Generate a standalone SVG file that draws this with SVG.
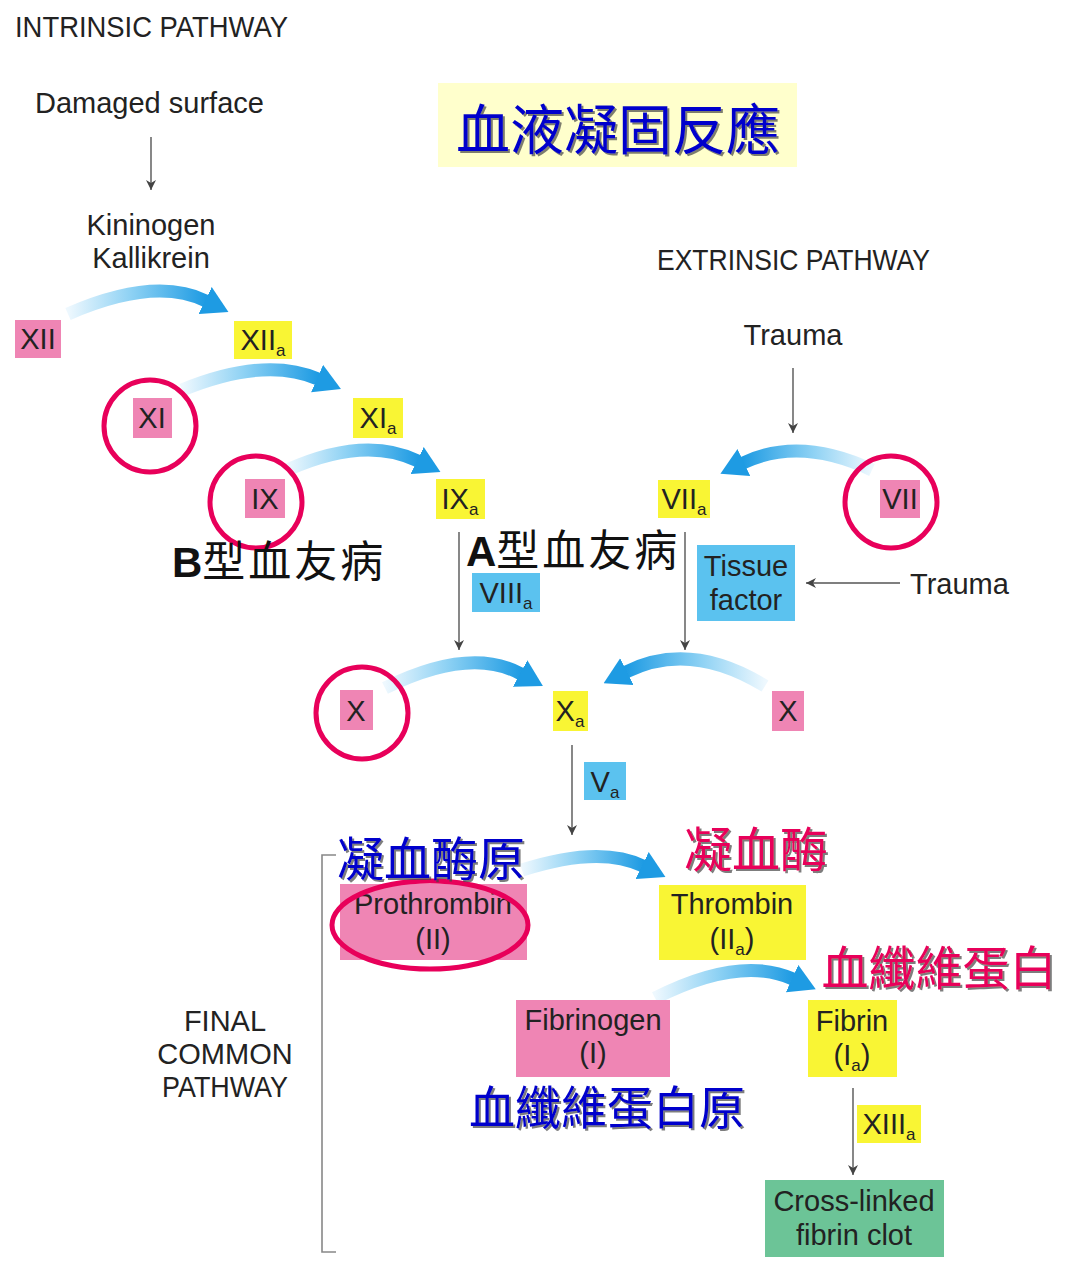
<svg xmlns="http://www.w3.org/2000/svg" width="1068" height="1263" viewBox="0 0 1068 1263">
<style>
.t{font-family:"Liberation Sans","Noto Sans",sans-serif;fill:#222;font-size:29px}
.c{text-anchor:middle}
.sub{font-size:17px}
.pk{fill:#ef85b4}
.yl{fill:#f9f534}
.bl{fill:#5bc2ef}
.gr{fill:#6cc497}
.ring{fill:none;stroke:#e8005a;stroke-width:5}
.thin{fill:none;stroke:#555;stroke-width:1.4;marker-end:url(#ah)}
.band{fill:none;stroke-width:13;stroke-linecap:butt;marker-end:url(#bh)}
.cjk{font-family:"Noto Sans CJK TC","Noto Sans CJK SC",sans-serif}
.blue{fill:#0000cc;filter:url(#sh)}
.red{fill:#e8005a;filter:url(#sh)}
.blk{fill:#111}
</style>
<defs>
<marker id="ah" markerUnits="userSpaceOnUse" markerWidth="10" markerHeight="10" refX="10" refY="5" orient="auto" viewBox="0 0 10 10">
<path d="M0,0 L10,5 L0,10 L3,5 z" fill="#444"/>
</marker>
<marker id="bh" markerUnits="userSpaceOnUse" markerWidth="26" markerHeight="30" refX="1" refY="15" orient="auto" viewBox="0 0 26 30">
<path d="M0,0 L26,15 L0,30 z" fill="#1e9be3"/>
</marker>
<linearGradient id="gR" x1="0" y1="0" x2="1" y2="0">
<stop offset="0" stop-color="#eef8fe"/>
<stop offset="0.45" stop-color="#8fd2f4"/>
<stop offset="1" stop-color="#1e9be3"/>
</linearGradient>
<linearGradient id="gL" x1="1" y1="0" x2="0" y2="0">
<stop offset="0" stop-color="#eef8fe"/>
<stop offset="0.45" stop-color="#8fd2f4"/>
<stop offset="1" stop-color="#1e9be3"/>
</linearGradient>
<filter id="sh" x="-5%" y="-5%" width="115%" height="120%">
<feDropShadow dx="2" dy="2" stdDeviation="0.6" flood-color="#444" flood-opacity="0.7"/>
</filter>
</defs>
<rect width="1068" height="1263" fill="#ffffff"/>

<g id="labels">
<text class="t" x="15" y="37" textLength="273" lengthAdjust="spacingAndGlyphs">INTRINSIC PATHWAY</text>
<text class="t" x="657" y="270" textLength="273" lengthAdjust="spacingAndGlyphs">EXTRINSIC PATHWAY</text>
<text class="t c" x="225" y="1031">FINAL</text>
<text class="t c" x="225" y="1064">COMMON</text>
<text class="t c" x="225" y="1097" textLength="126" lengthAdjust="spacingAndGlyphs">PATHWAY</text>
</g>

<g id="title">
<rect x="438" y="83" width="359" height="84" fill="#ffffcc"/>
<text class="cjk blue c" x="618" y="150" font-size="54">血液凝固反應</text>
</g>

<g id="damaged"><text class="t" x="35" y="113">Damaged surface</text></g>
<g id="kininogen">
<text class="t c" x="151" y="235">Kininogen</text>
<text class="t c" x="151" y="268">Kallikrein</text>
</g>
<g id="trauma1"><text class="t c" x="793" y="345">Trauma</text></g>
<g id="trauma2"><text class="t" x="910" y="594">Trauma</text></g>

<g id="connectors">
<path class="thin" d="M151,137 V190"/>
<path class="thin" d="M793,368 V433"/>
<path class="thin" d="M459,532 V650"/>
<path class="thin" d="M685,532 V650"/>
<path class="thin" d="M900,583 H806"/>
<path class="thin" d="M572,745 V835"/>
<path class="thin" d="M853,1088 V1175"/>
<polyline points="336,855 322,855 322,1252 336,1252" fill="none" stroke="#888" stroke-width="1.6"/>
<path class="band" stroke="url(#gR)" d="M68,314 Q155,276 206,301"/>
<path class="band" stroke="url(#gR)" d="M182,390 Q265,356 318,379"/>
<path class="band" stroke="url(#gR)" d="M287,470 Q365,435 418,461"/>
<path class="band" stroke="url(#gL)" d="M872,470 Q800,436 743,463"/>
<path class="band" stroke="url(#gR)" d="M385,688 Q470,646 521,674"/>
<path class="band" stroke="url(#gL)" d="M765,686 Q690,640 626,672"/>
<path class="band" stroke="url(#gR)" d="M522,870 Q600,845 643,866"/>
<path class="band" stroke="url(#gR)" d="M655,998 Q740,955 793,979"/>
</g>

<g id="XII"><rect class="pk" x="15" y="320" width="46" height="38"/><text class="t c" x="38" y="349">XII</text></g>
<g id="XIIa"><rect class="yl" x="234" y="321" width="58" height="38"/><text class="t c" x="263" y="350">XII<tspan class="sub" dy="6">a</tspan></text></g>
<g id="XI"><rect class="pk" x="133" y="398" width="39" height="40"/><text class="t c" x="152" y="428">XI</text></g>
<g id="XIa"><rect class="yl" x="353" y="398" width="50" height="40"/><text class="t c" x="378" y="428">XI<tspan class="sub" dy="6">a</tspan></text></g>
<g id="IX"><rect class="pk" x="245" y="479" width="40" height="39"/><text class="t c" x="265" y="509">IX</text></g>
<g id="IXa"><rect class="yl" x="436" y="479" width="49" height="40"/><text class="t c" x="460" y="509">IX<tspan class="sub" dy="6">a</tspan></text></g>
<g id="VIIa"><rect class="yl" x="658" y="480" width="52" height="38"/><text class="t c" x="684" y="509">VII<tspan class="sub" dy="6">a</tspan></text></g>
<g id="VII"><rect class="pk" x="880" y="480" width="40" height="38"/><text class="t c" x="900" y="509">VII</text></g>
<g id="VIIIa"><rect class="bl" x="472" y="573" width="68" height="39"/><text class="t c" x="506" y="603">VIII<tspan class="sub" dy="6">a</tspan></text></g>
<g id="tissue-factor"><rect class="bl" x="697" y="545" width="98" height="76"/><text class="t c" x="746" y="576">Tissue</text><text class="t c" x="746" y="610">factor</text></g>
<g id="X-left"><rect class="pk" x="340" y="690" width="33" height="40"/><text class="t c" x="356" y="721">X</text></g>
<g id="Xa"><rect class="yl" x="553" y="691" width="35" height="40"/><text class="t c" x="570" y="721">X<tspan class="sub" dy="6">a</tspan></text></g>
<g id="X-right"><rect class="pk" x="772" y="691" width="32" height="40"/><text class="t c" x="788" y="721">X</text></g>
<g id="Va"><rect class="bl" x="584" y="762" width="42" height="38"/><text class="t c" x="605" y="792">V<tspan class="sub" dy="6">a</tspan></text></g>
<g id="prothrombin"><rect class="pk" x="340" y="884" width="187" height="76"/><text class="t c" x="433" y="914">Prothrombin</text><text class="t c" x="433" y="949">(II)</text></g>
<g id="thrombin"><rect class="yl" x="659" y="885" width="147" height="75"/><text class="t c" x="732" y="914">Thrombin</text><text class="t c" x="732" y="949">(II<tspan class="sub" dy="6">a</tspan><tspan dy="-6">)</tspan></text></g>
<g id="fibrinogen"><rect class="pk" x="516" y="1000" width="154" height="77"/><text class="t c" x="593" y="1030">Fibrinogen</text><text class="t c" x="593" y="1063">(I)</text></g>
<g id="fibrin"><rect class="yl" x="808" y="1000" width="89" height="77"/><text class="t c" x="852" y="1031">Fibrin</text><text class="t c" x="852" y="1065">(I<tspan class="sub" dy="6">a</tspan><tspan dy="-6">)</tspan></text></g>
<g id="XIIIa"><rect class="yl" x="857" y="1105" width="64" height="38"/><text class="t c" x="889" y="1134">XIII<tspan class="sub" dy="6">a</tspan></text></g>
<g id="clot"><rect class="gr" x="765" y="1180" width="179" height="77"/><text class="t c" x="854" y="1211">Cross-linked</text><text class="t c" x="854" y="1245">fibrin clot</text></g>

<g id="highlights">
<circle class="ring" cx="150" cy="426" r="46"/>
<circle class="ring" cx="256" cy="502" r="46"/>
<circle class="ring" cx="891" cy="502" r="46"/>
<circle class="ring" cx="362" cy="713" r="46"/>
<ellipse class="ring" cx="430" cy="925" rx="98" ry="44"/>
</g>

<g id="hemophilia-B"><text class="blk" x="172" y="577"><tspan font-family="Liberation Sans,sans-serif" font-weight="bold" font-size="42">B</tspan><tspan class="cjk" font-size="43" letter-spacing="3">型血友病</tspan></text></g>
<g id="hemophilia-A"><text class="blk" x="466" y="566"><tspan font-family="Liberation Sans,sans-serif" font-weight="bold" font-size="42">A</tspan><tspan class="cjk" font-size="43" letter-spacing="3">型血友病</tspan></text></g>
<g id="cn-prothrombin"><text class="cjk blue c" x="431" y="876" font-size="47">凝血酶原</text></g>
<g id="cn-thrombin"><text class="cjk red c" x="756" y="867" font-size="48">凝血酶</text></g>
<g id="cn-fibrin"><text class="cjk red c" x="939" y="985" font-size="47">血纖維蛋白</text></g>
<g id="cn-fibrinogen"><text class="cjk blue c" x="607" y="1124" font-size="46">血纖維蛋白原</text></g>
</svg>
